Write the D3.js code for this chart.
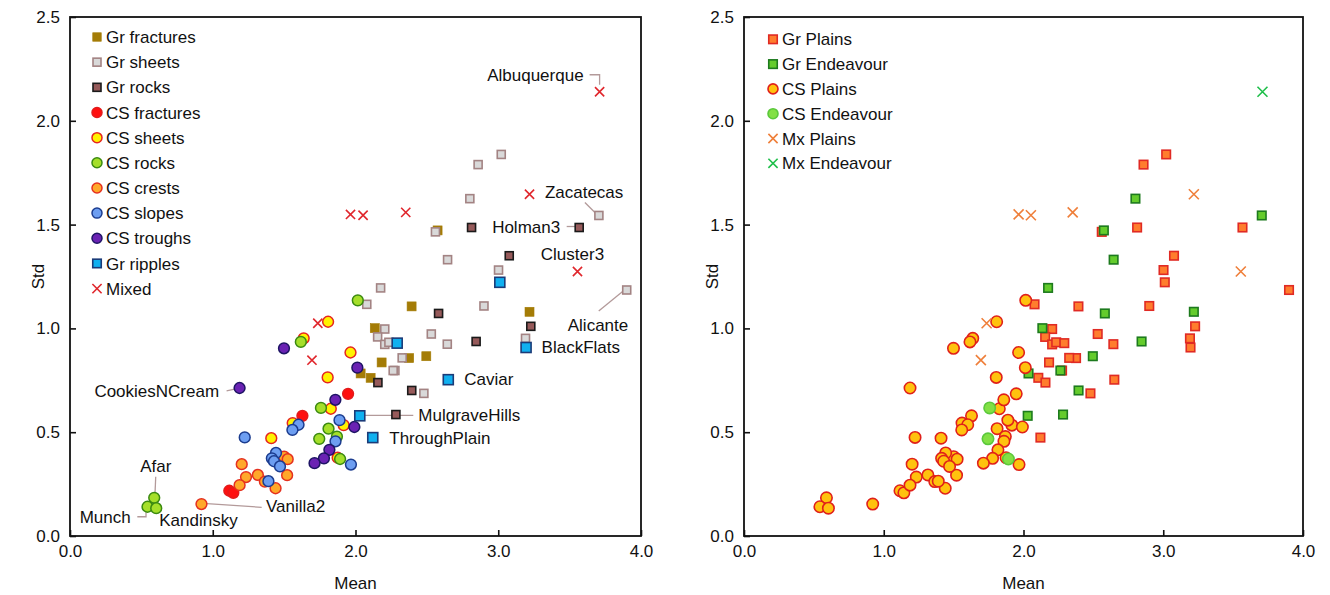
<!DOCTYPE html>
<html>
<head>
<meta charset="utf-8">
<script src="https://cdn.jsdelivr.net/npm/d3@7"></script>
<style>
  body { margin: 0; background: #fff; }
  text { font-family: "Liberation Sans", Arial, sans-serif; fill: #111; }
</style>
</head>
<body>
<svg id="chart" width="1330" height="595"></svg>
<script>
// Each point: [mean, std, site]   site: "P" = Plains, "E" = Endeavour
const grFractures = [
  [2.575, 1.472, "E"], [2.393, 1.106, "P"], [3.219, 1.080, "E"], [2.135, 1.001, "E"],
  [2.376, 0.857, "P"], [2.496, 0.866, "E"], [2.183, 0.836, "P"], [2.036, 0.783, "E"],
  [2.106, 0.762, "P"]
];
const grSheets = [
  [3.021, 1.838, "P"], [2.859, 1.789, "P"], [2.801, 1.625, "E"], [3.705, 1.544, "E"],
  [2.560, 1.465, "P"], [2.645, 1.331, "E"], [3.002, 1.281, "P"], [3.900, 1.185, "P"],
  [2.176, 1.195, "E"], [2.079, 1.116, "P"], [2.900, 1.108, "P"], [2.205, 0.997, "P"],
  [2.155, 0.959, "P"], [2.205, 0.923, "P"], [2.234, 0.933, "P"], [2.531, 0.973, "P"],
  [2.643, 0.924, "P"], [3.191, 0.952, "P"], [2.327, 0.858, "P"], [2.276, 0.797, "P"],
  [2.264, 0.797, "E"], [2.479, 0.687, "P"]
];
const grRocks = [
  [3.567, 1.486, "P"], [2.813, 1.486, "P"], [3.077, 1.350, "P"], [2.582, 1.072, "E"],
  [3.228, 1.010, "P"], [2.845, 0.937, "E"], [2.157, 0.739, "P"], [2.394, 0.701, "E"],
  [2.283, 0.585, "E"]
];
const grRipples = [
  [3.195, 0.908, "P"], [3.011, 1.222, "P"], [2.292, 0.929, "P"], [2.650, 0.753, "P"],
  [2.030, 0.579, "E"], [2.121, 0.474, "P"]
];
const csFractures = [
  [1.948, 0.685, "P"], [1.628, 0.579, "P"], [1.116, 0.218, "P"], [1.144, 0.208, "P"]
];
const csSheets = [
  [1.808, 1.032, "P"], [1.637, 0.952, "P"], [1.965, 0.884, "P"], [1.805, 0.764, "P"],
  [1.827, 0.613, "P"], [1.560, 0.544, "P"], [1.917, 0.534, "P"], [1.410, 0.471, "P"],
  [1.875, 0.377, "P"]
];
const csRocks = [
  [2.016, 1.135, "P"], [1.617, 0.935, "P"], [1.758, 0.617, "E"], [1.811, 0.517, "P"],
  [1.746, 0.468, "E"], [1.870, 0.479, "P"], [1.892, 0.371, "E"], [0.590, 0.184, "P"],
  [0.543, 0.141, "P"], [0.604, 0.134, "P"]
];
const csCrests = [
  [1.500, 0.382, "P"], [1.525, 0.370, "P"], [1.203, 0.346, "P"], [1.233, 0.284, "P"],
  [1.316, 0.294, "P"], [1.521, 0.293, "P"], [1.188, 0.245, "P"], [1.365, 0.262, "P"],
  [1.440, 0.230, "P"], [0.921, 0.154, "P"]
];
const csSlopes = [
  [1.224, 0.475, "P"], [1.443, 0.400, "P"], [1.414, 0.374, "P"], [1.429, 0.360, "P"],
  [1.471, 0.335, "P"], [1.390, 0.264, "P"], [1.601, 0.536, "P"], [1.558, 0.511, "P"],
  [1.888, 0.558, "P"], [1.860, 0.456, "P"], [1.968, 0.344, "P"]
];
const csTroughs = [
  [1.499, 0.904, "P"], [2.013, 0.811, "P"], [1.188, 0.713, "P"], [1.859, 0.656, "P"],
  [1.992, 0.525, "P"], [1.817, 0.415, "P"], [1.779, 0.374, "P"], [1.713, 0.351, "P"]
];
const mixed = [
  [3.710, 2.140, "E"], [3.219, 1.646, "P"], [1.965, 1.549, "P"], [2.053, 1.545, "P"],
  [2.352, 1.559, "P"], [3.555, 1.274, "P"], [1.736, 1.025, "P"], [1.695, 0.847, "P"]
];

const xTicks = [0, 1, 2, 3, 4];
const yTicks = [0, 0.5, 1.0, 1.5, 2.0, 2.5];
const xTitle = "Mean";
const yTitle = "Std";

// ---- series for the left panel (by feature type) ----
const leftSeries = [
  { name: "Gr fractures", data: grFractures, shape: "square", size: 9, fill: "#a47c06", stroke: "#a47c06", sw: 0.6 },
  { name: "Gr sheets", data: grSheets, shape: "square", size: 8, fill: "#d9d9d9", stroke: "#a38383", sw: 1.6 },
  { name: "Gr rocks", data: grRocks, shape: "square", size: 8, fill: "#965a5a", stroke: "#1a1a1a", sw: 1.6 },
  { name: "CS fractures", data: csFractures, shape: "circle", size: 5.4, fill: "#ff0f0f", stroke: "#e31b1b", sw: 1.5 },
  { name: "CS sheets", data: csSheets, shape: "circle", size: 5.4, fill: "#fff200", stroke: "#e5261f", sw: 1.5 },
  { name: "CS rocks", data: csRocks, shape: "circle", size: 5.4, fill: "#a5df2a", stroke: "#3b8a10", sw: 1.5 },
  { name: "CS crests", data: csCrests, shape: "circle", size: 5.4, fill: "#ffa82a", stroke: "#e5301f", sw: 1.5 },
  { name: "CS slopes", data: csSlopes, shape: "circle", size: 5.4, fill: "#6d9ef1", stroke: "#1b3c8f", sw: 1.5 },
  { name: "CS troughs", data: csTroughs, shape: "circle", size: 5.4, fill: "#6a22b3", stroke: "#1e1464", sw: 1.5 },
  { name: "Gr ripples", data: grRipples, shape: "square", size: 10, fill: "#10b0f0", stroke: "#1b3b78", sw: 1.6 },
  { name: "Mixed", data: mixed, shape: "cross", size: 4.6, fill: "none", stroke: "#e0262c", sw: 1.6 }
];

// ---- series for the right panel (by site) ----
const grAll = [grFractures, grSheets, grRocks, grRipples].flat();
const csAll = [csFractures, csSheets, csRocks, csCrests, csSlopes, csTroughs].flat();
const atSite = (arr, s) => arr.filter(d => d[2] === s);
const rightSeries = [
  { name: "Gr Plains", data: atSite(grAll, "P"), shape: "square", size: 8.5, fill: "#ff7d2d", stroke: "#e02a24", sw: 1.6 },
  { name: "Gr Endeavour", data: atSite(grAll, "E"), shape: "square", size: 8.5, fill: "#64cc2c", stroke: "#1d7a1e", sw: 1.6 },
  { name: "CS Plains", data: atSite(csAll, "P"), shape: "circle", size: 5.7, fill: "#ffc20e", stroke: "#e0201a", sw: 1.6 },
  { name: "CS Endeavour", data: atSite(csAll, "E"), shape: "circle", size: 5.7, fill: "#82e044", stroke: "#5bc83c", sw: 1.6 },
  { name: "Mx Plains", data: atSite(mixed, "P"), shape: "cross", size: 5, fill: "none", stroke: "#ef7f3a", sw: 1.6 },
  { name: "Mx Endeavour", data: atSite(mixed, "E"), shape: "cross", size: 5, fill: "none", stroke: "#1fbf4a", sw: 1.6 }
];

// ---- point labels on the left panel (offsets in px from the labelled point) ----
const notes = [
  { text: "Albuquerque", pt: mixed[0], tx: -16, ty: -17, anchor: "end", lead: [[-10, -17], [0, -17], [0, -7]] },
  { text: "Zacatecas", pt: grSheets[3], tx: -54, ty: -24, anchor: "start", lead: [[-14, -13], [-4, -3]] },
  { text: "Holman3", pt: grRocks[0], tx: -19, ty: -1, anchor: "end", lead: [[-12.5, -1], [-3, -1]] },
  { text: "Cluster3", pt: mixed[5], tx: -5, ty: -18, anchor: "middle", lead: null },
  { text: "Alicante", pt: grSheets[7], tx: 1.5, ty: 35, anchor: "end", lead: [[-28, 21], [-3.5, 1]] },
  { text: "BlackFlats", pt: grRipples[0], tx: 15.5, ty: -0.5, anchor: "start", lead: null },
  { text: "Caviar", pt: grRipples[3], tx: 16, ty: -0.5, anchor: "start", lead: null },
  { text: "MulgraveHills", pt: grRipples[4], tx: 58.5, ty: -0.5, anchor: "start", lead: [[0, -0.5], [53.5, -0.5]] },
  { text: "ThroughPlain", pt: grRipples[5], tx: 16.5, ty: 0, anchor: "start", lead: null },
  { text: "CookiesNCream", pt: csTroughs[2], tx: -20.5, ty: 2.8, anchor: "end", lead: [[-13, 2.8], [-1.5, 0.5]] },
  { text: "Afar", pt: csRocks[7], tx: 1.6, ty: -32, anchor: "middle", lead: [[1.5, -21], [0.8, -4.5]] },
  { text: "Munch", pt: csRocks[8], tx: -16.8, ty: 10, anchor: "end", lead: [[-10.2, 10], [-1.5, 10], [-1.5, 1.6]] },
  { text: "Kandinsky", pt: csRocks[9], tx: 3, ty: 12, anchor: "start", lead: null },
  { text: "Vanilla2", pt: csCrests[9], tx: 64.5, ty: 2, anchor: "start", lead: [[1.8, -0.7], [60.2, 3.3]] }
];

const svg = d3.select("#chart");
const FONT = 17;

function drawMarks(g, s, x, y) {
  const grp = g.append("g");
  if (s.shape === "square") {
    grp.selectAll("rect").data(s.data).join("rect")
      .attr("x", d => x(d[0]) - s.size / 2).attr("y", d => y(d[1]) - s.size / 2)
      .attr("width", s.size).attr("height", s.size)
      .attr("fill", s.fill).attr("stroke", s.stroke).attr("stroke-width", s.sw);
  } else if (s.shape === "circle") {
    grp.selectAll("circle").data(s.data).join("circle")
      .attr("cx", d => x(d[0])).attr("cy", d => y(d[1])).attr("r", s.size)
      .attr("fill", s.fill).attr("stroke", s.stroke).attr("stroke-width", s.sw);
  } else {
    const h = s.size;
    grp.selectAll("path").data(s.data).join("path")
      .attr("d", d => {
        const cx = x(d[0]), cy = y(d[1]);
        return `M${cx - h},${cy - h}L${cx + h},${cy + h}M${cx - h},${cy + h}L${cx + h},${cy - h}`;
      })
      .attr("fill", "none").attr("stroke", s.stroke).attr("stroke-width", s.sw);
  }
}

function drawLegend(g, series, lx, ly, step) {
  series.forEach((s, i) => {
    const cy = ly + i * step;
    const one = Object.assign({}, s, { data: [[0, 0]] });
    if (s.shape === "square") one.size = Math.min(s.size, 8.5);
    if (s.shape === "circle") one.size = 5;
    if (s.shape === "cross") one.size = 4.6;
    drawMarks(g, one, () => lx, () => cy);
    g.append("text").attr("x", lx + 9).attr("y", cy).attr("dy", "0.36em")
      .attr("font-size", FONT).text(s.name);
  });
}

function panel(x0, x1, series, legendPos, withNotes) {
  const top = 17, bottom = 536;
  const x = d3.scaleLinear().domain([0, 4]).range([x0, x1]);
  const y = d3.scaleLinear().domain([0, 2.5]).range([bottom, top]);
  const g = svg.append("g");

  const xa = g.append("g").attr("transform", `translate(0,${bottom})`)
    .call(d3.axisBottom(x).tickValues(xTicks).tickFormat(d3.format(".1f"))
      .tickSizeInner(-6).tickSizeOuter(0).tickPadding(9));
  const ya = g.append("g").attr("transform", `translate(${x0},0)`)
    .call(d3.axisLeft(y).tickValues(yTicks).tickFormat(d3.format(".1f"))
      .tickSizeInner(-6).tickSizeOuter(0).tickPadding(10));
  [xa, ya].forEach(a => {
    a.select(".domain").remove();
    a.selectAll("line").attr("stroke", "#111").attr("stroke-width", 1.6);
    a.selectAll("text").attr("font-size", FONT).attr("font-family", "Liberation Sans, Arial, sans-serif").attr("fill", "#111");
  });

  g.append("rect").attr("x", x0).attr("y", top).attr("width", x1 - x0).attr("height", bottom - top)
    .attr("fill", "none").attr("stroke", "#111").attr("stroke-width", 1.8);

  g.append("text").attr("x", (x0 + x1) / 2).attr("y", 583).attr("dy", "0.36em")
    .attr("text-anchor", "middle").attr("font-size", FONT).text(xTitle);
  g.append("text").attr("transform", `translate(${x0 - 32},${(top + bottom) / 2}) rotate(-90)`)
    .attr("dy", "0.36em").attr("text-anchor", "middle").attr("font-size", FONT).text(yTitle);

  if (withNotes) {
    const ng = g.append("g");
    notes.forEach(n => {
      const px = x(n.pt[0]), py = y(n.pt[1]);
      if (n.lead) {
        ng.append("path")
          .attr("d", d3.line()(n.lead.map(p => [px + p[0], py + p[1]])))
          .attr("fill", "none").attr("stroke", "#b39a9a").attr("stroke-width", 1.3);
      }
    });
    series.forEach(s => drawMarks(g, s, x, y));
    notes.forEach(n => {
      const px = x(n.pt[0]), py = y(n.pt[1]);
      g.append("text").attr("x", px + n.tx).attr("y", py + n.ty).attr("dy", "0.36em")
        .attr("text-anchor", n.anchor).attr("font-size", FONT).text(n.text);
    });
  } else {
    series.forEach(s => drawMarks(g, s, x, y));
  }

  drawLegend(g, series, legendPos[0], legendPos[1], legendPos[2]);
}

panel(70, 641, leftSeries, [97, 37, 25.16], true);
panel(744, 1303, rightSeries, [773, 39.3, 24.8], false);
</script>
</body>
</html>
